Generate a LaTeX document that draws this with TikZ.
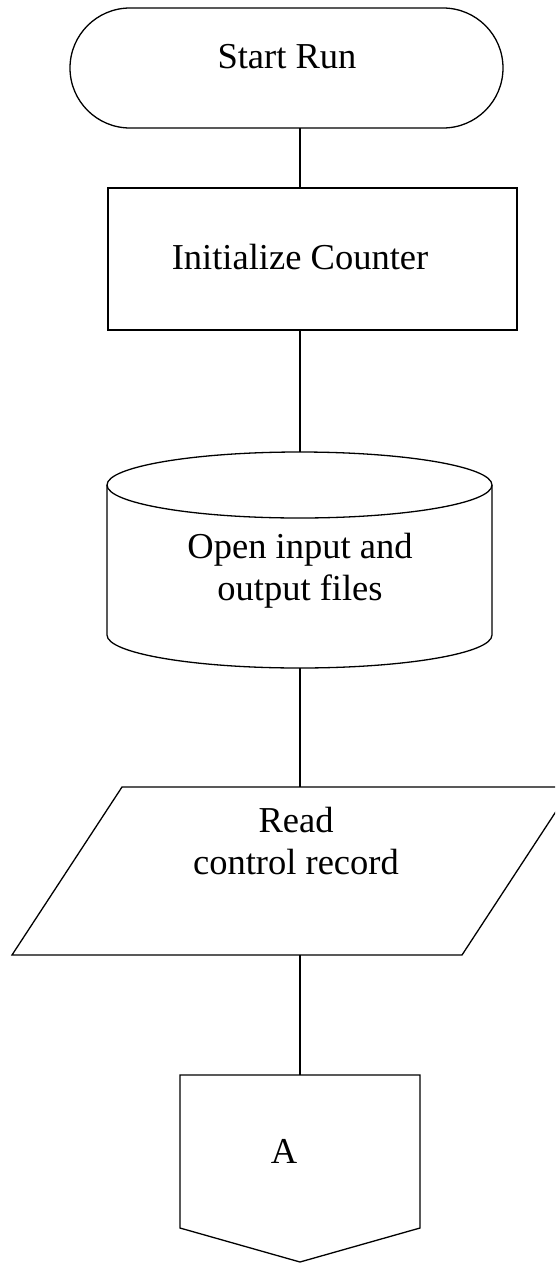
\documentclass[tikz,border=0pt]{standalone}
\usepackage{fontspec}
\setmainfont{Liberation Serif}
\begin{document}
\begin{tikzpicture}[x=1pt,y=1pt,line width=1.3pt,line join=miter,
  lbl/.style={font=\fontsize{36.5}{42}\selectfont,align=center,inner sep=0pt,anchor=base}]
\useasboundingbox (0,0) rectangle (555,-1264);
\clip (0,0) rectangle (555,-1264);
% terminal
\draw (130,-8) -- (443,-8) arc[start angle=90,end angle=-90,radius=60]
      -- (130,-128) arc[start angle=270,end angle=90,radius=60] -- cycle;
\node[lbl] (start) at (287,-68) {Start Run};
\coordinate (startB) at (300,-128);
% process
\draw (108,-188) rectangle (517,-330);
\node[lbl] (init) at (300,-269) {Initialize Counter};
\coordinate (initT) at (300,-188);
\coordinate (initB) at (300,-330);
% cylinder
\draw (107,-485) arc[start angle=180,end angle=0,x radius=192.5,y radius=33]
      arc[start angle=0,end angle=-180,x radius=192.5,y radius=33];
\draw (107,-485) -- (107,-635) arc[start angle=180,end angle=360,x radius=192.5,y radius=33] -- (492,-485);
\node[lbl] (open) at (300,-600) {Open input and\\output files};
\coordinate (openT) at (300,-452);
\coordinate (openB) at (300,-668);
% parallelogram
\draw (122,-787) -- (572,-787) -- (462,-955) -- (12,-955) -- cycle;
\node[lbl] (read) at (296,-874) {Read\\control record};
\coordinate (readT) at (300,-787);
\coordinate (readB) at (300,-955);
% off-page connector
\draw (180,-1075) -- (420,-1075) -- (420,-1228) -- (300,-1262) -- (180,-1228) -- cycle;
\node[lbl] (A) at (284,-1163) {A};
\coordinate (offT) at (300,-1075);
% connectors
\draw (startB) -- (initT);
\draw (initB) -- (openT);
\draw (openB) -- (readT);
\draw (readB) -- (offT);
\end{tikzpicture}
\end{document}
